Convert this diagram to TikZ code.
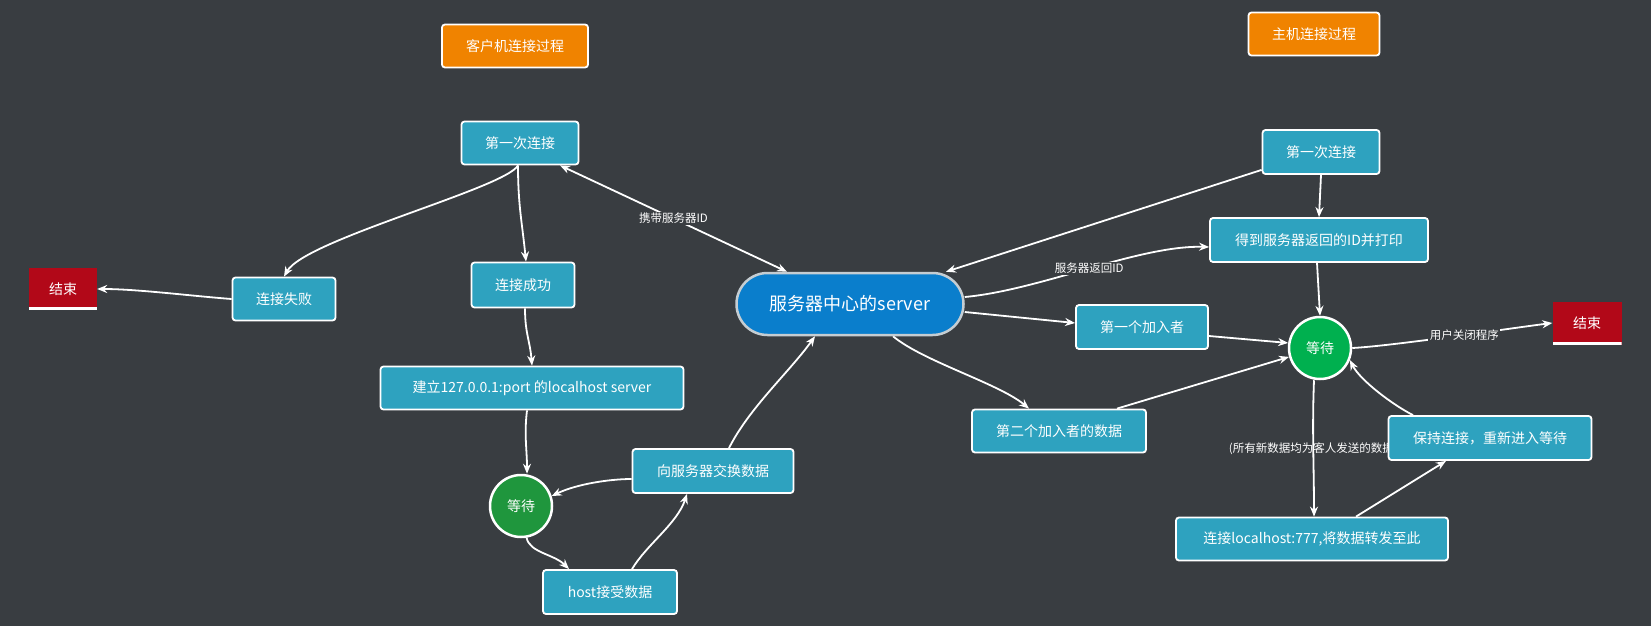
\documentclass[tikz,border=0pt]{standalone}
\usepackage{fontspec}
\setmainfont{Noto Sans CJK SC}
\usetikzlibrary{arrows.meta,backgrounds}
\pgfdeclarelayer{edges}
\pgfsetlayers{background,edges,main}
\definecolor{bgc}{HTML}{393D41}
\definecolor{teal1}{HTML}{2EA2BF}
\definecolor{orange1}{HTML}{F08300}
\definecolor{red1}{HTML}{B20818}
\definecolor{blue1}{HTML}{0A7ECC}
\definecolor{gray1}{HTML}{C5CDD2}
\definecolor{greenL}{HTML}{1F963D}
\definecolor{greenR}{HTML}{00B04F}
\begin{document}
\begin{tikzpicture}[x=1pt,y=-1pt,
  box/.style={draw=white,line width=1.8pt,rounded corners=3pt,fill=teal1,text=white,
    font=\fontsize{14}{16}\selectfont,inner sep=0pt,minimum height=43pt},
  ttl/.style={box,fill=orange1},
  endbox/.style={fill=red1,text=white,inner sep=0pt,minimum width=68pt,minimum height=42pt,
    font=\fontsize{14}{16}\selectfont,
    path picture={\fill[white] ([yshift=3pt]path picture bounding box.south west) rectangle (path picture bounding box.south east);}},
  waitnode/.style={circle,draw=white,line width=2.5pt,minimum size=62pt,inner sep=0pt,text=white,
    font=\fontsize{14}{16}\selectfont},
  srvnode/.style={draw=gray1,line width=2.5pt,rounded corners=31pt,fill=blue1,text=white,
    font=\fontsize{18}{20}\selectfont,inner sep=0pt,minimum width=227pt,minimum height=62pt},
  conn/.style={draw=white,line width=1.8pt,-{Stealth[length=10pt,width=8pt]}},
  lbl/.style={text=white,font=\fontsize{11.5}{13}\selectfont,inner sep=1.5pt},
  lblbg/.style={lbl,fill=bgc}]
\begin{pgfonlayer}{background}
\fill[bgc] (0,0) rectangle (1651,626);
\end{pgfonlayer}
\useasboundingbox (0,0) rectangle (1651,626);

% titles
\node[ttl,minimum width=146pt] (tC) at (515,46) {客户机连接过程};
\node[ttl,minimum width=131pt] (tH) at (1314,34) {主机连接过程};

% client side
\node[box,minimum width=117pt] (f1L) at (520,143) {第一次连接};
\node[endbox] (endL) at (63,289) {结束};
\node[box,minimum width=103pt] (fail) at (284,299) {连接失败};
\node[box,minimum width=103pt,minimum height=45pt] (ok) at (523,285) {连接成功};
\node[box,minimum width=303pt] (build) at (532,388) {建立127.0.0.1:port 的localhost server};
\node[waitnode,fill=greenL] (waitL) at (521,506) {等待};
\node[box,minimum width=161pt,minimum height=44pt] (xchg) at (713,471) {向服务器交换数据};
\node[box,minimum width=134pt,minimum height=44pt] (host) at (610,592) {host接受数据};

% server
\node[srvnode] (srv) at (850,304) {服务器中心的server};

% host side
\node[box,minimum width=117pt,minimum height=44pt] (f1H) at (1321,152) {第一次连接};
\node[box,minimum width=218pt,minimum height=44pt] (getid) at (1319,240) {得到服务器返回的ID并打印};
\node[box,minimum width=132pt,minimum height=44pt] (first) at (1142,327) {第一个加入者};
\node[box,minimum width=174pt] (second) at (1059,431) {第二个加入者的数据};
\node[waitnode,fill=greenR] (waitR) at (1320,348) {等待};
\node[endbox,minimum width=69pt,minimum height=43pt] (endR) at (1587,323) {结束};
\node[box,minimum width=203pt,minimum height=44pt] (keep) at (1490,438) {保持连接，重新进入等待};
\node[box,minimum width=272pt] (lh) at (1312,539) {连接localhost:777,将数据转发至此};

\begin{pgfonlayer}{edges}
% client edges
\draw[conn,{Stealth[length=10pt,width=8pt]}-{Stealth[length=10pt,width=8pt]}]
  ([shift={(40,0)}]f1L.south) -- node[lblbg,pos=0.5] (l1) {携带服务器ID} ([shift={(-63,0)}]srv.north);
\draw[conn] ([shift={(-2,0)}]f1L.south) .. controls +(-13,23) and +(21,-37) .. (fail.north);
\draw[conn] ([shift={(-2,0)}]f1L.south) .. controls +(0,40) and +(-4,-40) .. ([shift={(3,0)}]ok.north);
\draw[conn] (fail.west) .. controls +(-40,-3) and +(40,0) .. (endL.east);
\draw[conn] ([shift={(2,0)}]ok.south) .. controls +(0,25) and +(-2,-25) .. (build.north);
\draw[conn] ([shift={(-5,0)}]build.south) .. controls +(-3,25) and +(0,-25) .. ([shift={(6,0)}]waitL.north);
\draw[conn] (waitL.-80) .. controls +(3,15) and +(-15,-15) .. ([shift={(-41,0)}]host.north);
\draw[conn] ([shift={(22,0)}]host.north) .. controls +(15,-25) and +(-10,30) .. ([shift={(-26,0)}]xchg.south);
\draw[conn] ([shift={(0,8)}]xchg.west) .. controls +(-22,0) and +(25,-12) .. (waitL.18);
\draw[conn] ([shift={(16,0)}]xchg.north) .. controls +(20,-40) and +(-25,35) .. ([shift={(-35,0)}]srv.south);
% host edges
\draw[conn] ([shift={(0,-5)}]f1H.south west) -- ([shift={(96,0)}]srv.north);
\draw[conn] (f1H.south) -- (getid.north);
\draw[conn] ([shift={(0,-7)}]srv.east) .. controls +(76,-7) and +(-70,-2) .. ([shift={(0,7)}]getid.west)
  node[lblbg,pos=0.5] (l2) {服务器返回ID};
\draw[conn] ([shift={(-2,0)}]getid.south) -- (waitR.north);
\draw[conn] ([shift={(0,8)}]srv.east) -- ([shift={(0,-4)}]first.west);
\draw[conn] ([shift={(0,9)}]first.east) -- (waitR.171);
\draw[conn] ([shift={(43,0)}]srv.south) .. controls +(30,25) and +(-30,-25) .. ([shift={(-30,0)}]second.north);
\draw[conn] ([shift={(58,0)}]second.north) -- (waitR.196);
\draw[conn] (waitR.east) .. controls +(40,-2) and +(-40,5) .. (endR.west)
  node[lblbg,pos=0.55] (l3) {用户关闭程序};
\draw[conn] ([shift={(-6,0)}]waitR.south) .. controls +(-2,50) and +(0,-50) .. ([shift={(2,0)}]lh.north)
  node[lbl,pos=0.5] (l4) {(所有新数据均为客人发送的数据)};
\draw[conn] ([shift={(44,0)}]lh.north) -- ([shift={(-44,0)}]keep.south);
\draw[conn] ([shift={(-77,0)}]keep.north) .. controls +(-20,-10) and +(10,20) .. (waitR.-22);
\end{pgfonlayer}
\end{tikzpicture}
\end{document}
